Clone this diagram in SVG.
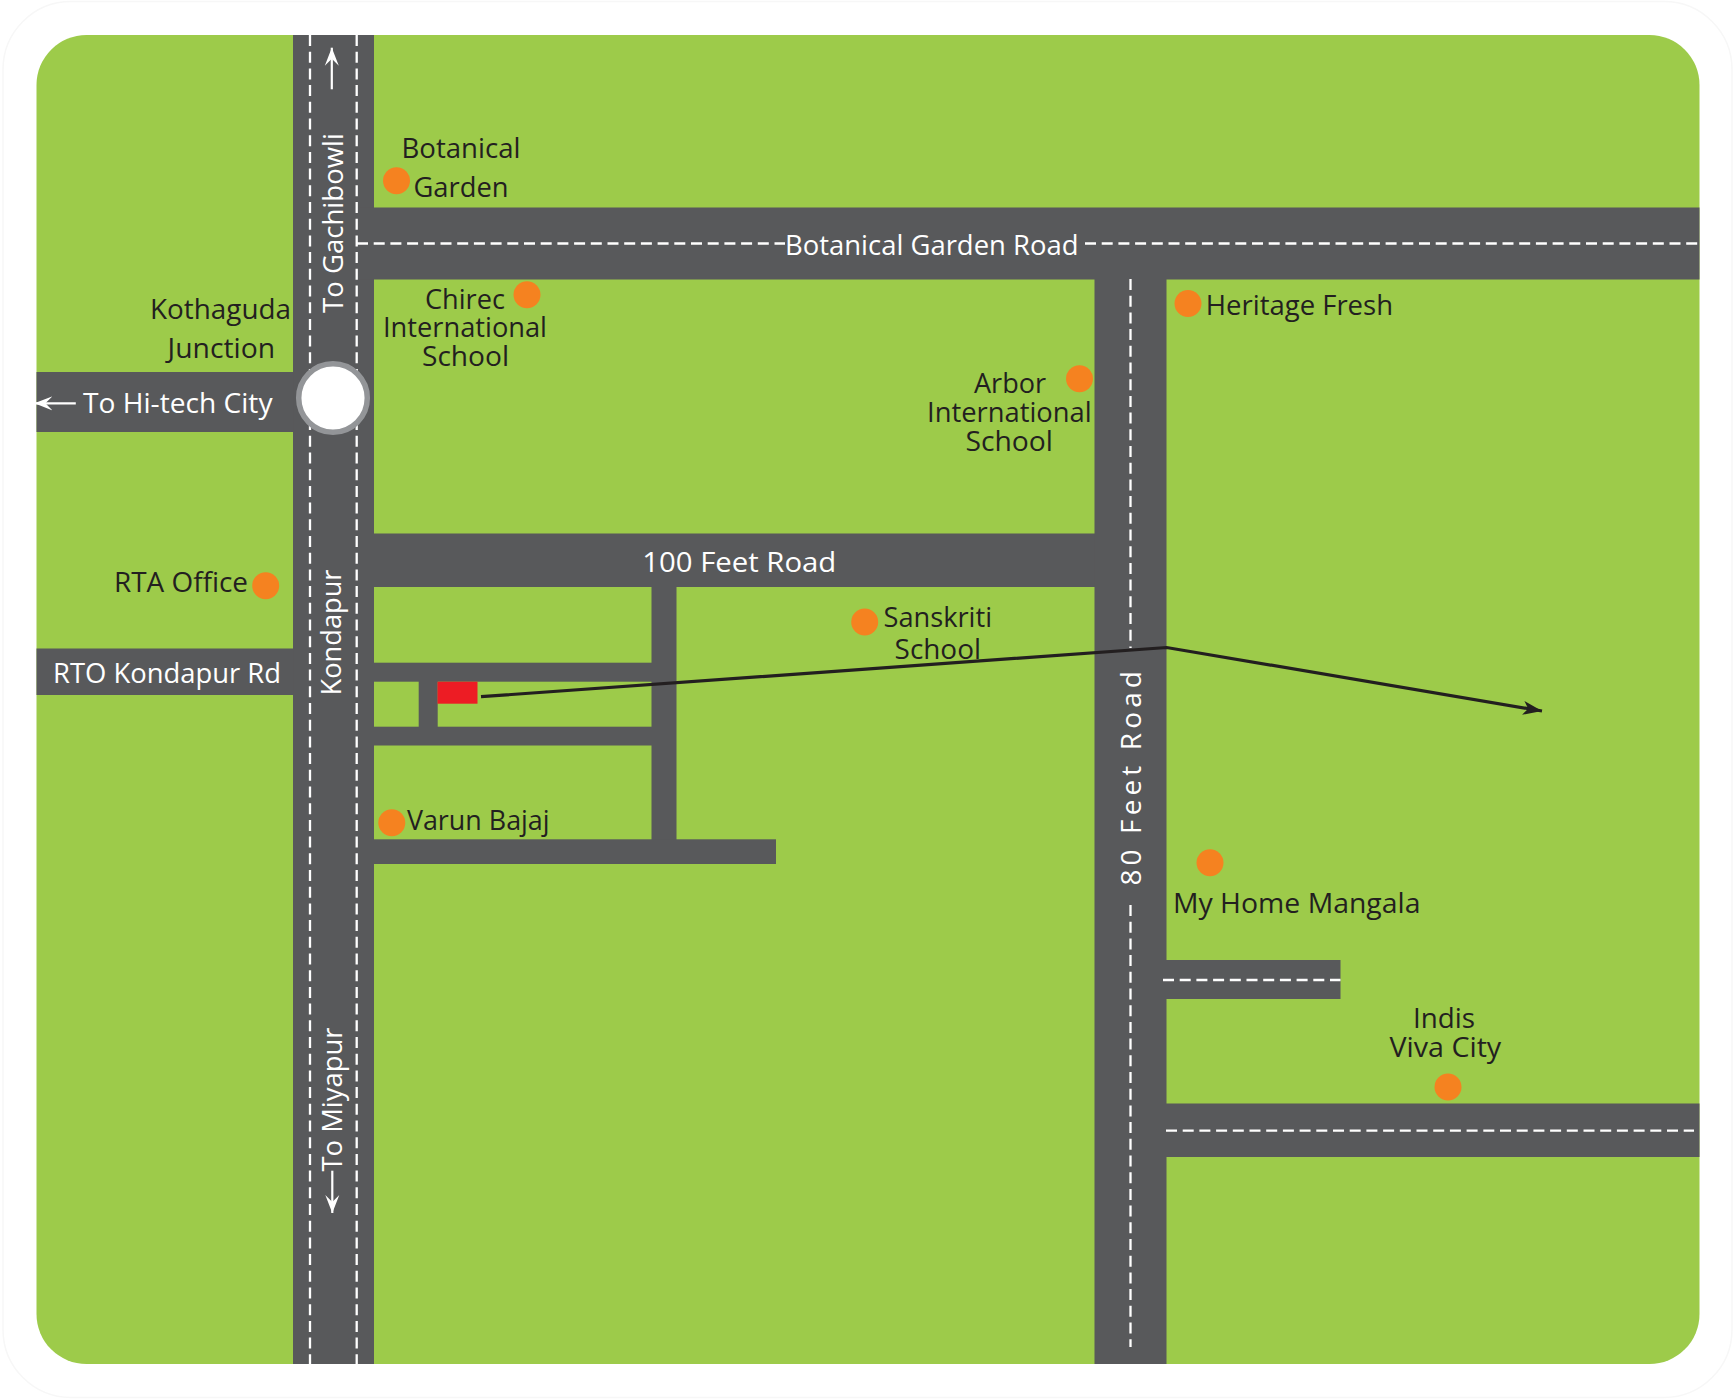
<svg xmlns="http://www.w3.org/2000/svg" width="1735" height="1399" viewBox="0 0 1735 1399">
<style>
.road{fill:#58595b}
.dash{stroke:#fff;stroke-width:2.3;stroke-dasharray:11 5.7;fill:none}
.dot{fill:#f58220}
text{font-family:"Open Sans","Noto Sans","Liberation Sans",sans-serif;font-size:28px;fill:#231f20}
.w{fill:#fff}
.thin{stroke:#fff;stroke-width:2.2;fill:none}
</style>
<defs>
<marker id="wh" markerUnits="userSpaceOnUse" markerWidth="24" markerHeight="24" refX="18" refY="12" orient="auto"><path d="M18 12L0 5L7 12L0 19Z" fill="#fff"/></marker>
<marker id="bk" markerUnits="userSpaceOnUse" markerWidth="24" markerHeight="24" refX="20" refY="12" orient="auto"><path d="M20 12L1 5L6 12L1 19Z" fill="#231f20"/></marker>
</defs>
<rect width="1735" height="1399" fill="#fff"/>
<rect x="3" y="1.500" width="1729" height="1396" rx="68" fill="#fff" stroke="#f7f7f7" stroke-width="1.500"/>
<path id="panel" d="M86.500 35H1649.500A50 50 0 0 1 1699.500 85V1314A50 50 0 0 1 1649.500 1364H86.500A50 50 0 0 1 36.500 1314V85A50 50 0 0 1 86.500 35Z" fill="#9dcb4a"/>
<g id="roads">
<rect class="road" x="293" y="35" width="81" height="1329"/>
<rect class="road" x="36.500" y="372" width="257" height="60"/>
<rect class="road" x="36.500" y="648.500" width="257" height="46.500"/>
<rect class="road" x="357" y="207.500" width="1342.500" height="72"/>
<rect class="road" x="373" y="533.500" width="722" height="53.500"/>
<rect class="road" x="1094.500" y="279" width="72" height="1085"/>
<rect class="road" x="651.500" y="586" width="25" height="278"/>
<rect class="road" x="373" y="662.700" width="279" height="19"/>
<rect class="road" x="373" y="726.700" width="279" height="18.800"/>
<rect class="road" x="418.700" y="681" width="19" height="46"/>
<rect class="road" x="373" y="839.300" width="403" height="24.700"/>
<rect class="road" x="1164" y="960" width="176.500" height="39"/>
<rect class="road" x="1166" y="1103.500" width="533.500" height="53.500"/>
<path class="dash" d="M310 35V1364M356.700 35V1364"/>
<path class="dash" d="M357 243.500H785M1085 243.500H1699.500"/>
<path class="dash" d="M1130.500 279V648M1130.500 905V1347"/>
<path class="dash" d="M1163 980H1340.500M1166 1130.600H1694"/>
</g>
<g id="junction"><circle cx="333" cy="398" r="34.300" fill="#fff" stroke="#939598" stroke-width="5.500"/></g>
<g id="labels-roads">
<text class="w" x="785" y="254.500" textLength="293.500" lengthAdjust="spacingAndGlyphs">Botanical Garden Road</text>
<text class="w" x="83" y="412.700" textLength="189.500" lengthAdjust="spacingAndGlyphs">To Hi-tech City</text>
<text class="w" x="53" y="683" textLength="228" lengthAdjust="spacingAndGlyphs">RTO Kondapur Rd</text>
<text class="w" x="642.300" y="571.700" textLength="194" lengthAdjust="spacingAndGlyphs">100 Feet Road</text>
<text class="w" transform="translate(343 313) rotate(-90)" textLength="180" lengthAdjust="spacingAndGlyphs">To Gachibowli</text>
<text class="w" transform="translate(341 695.500) rotate(-90)" textLength="126" lengthAdjust="spacingAndGlyphs">Kondapur</text>
<text class="w" transform="translate(341.700 1171.500) rotate(-90)" textLength="144" lengthAdjust="spacingAndGlyphs">To Miyapur</text>
<text class="w" transform="translate(1140.800 885.500) rotate(-90)" textLength="214.500" lengthAdjust="spacing">80 Feet Road</text>
</g>
<g id="place-botanical"><circle class="dot" cx="396.500" cy="180.700" r="13.500"/><text x="401.500" y="157.500" textLength="119" lengthAdjust="spacingAndGlyphs">Botanical</text><text x="413.500" y="196.700" textLength="95" lengthAdjust="spacingAndGlyphs">Garden</text></g>
<g id="place-chirec"><circle class="dot" cx="527" cy="294.700" r="13.500"/><text x="425" y="308.500" textLength="80" lengthAdjust="spacingAndGlyphs">Chirec</text><text x="383" y="337" textLength="164" lengthAdjust="spacingAndGlyphs">International</text><text x="422" y="365.700" textLength="87" lengthAdjust="spacingAndGlyphs">School</text></g>
<g id="place-kothaguda"><text x="150" y="319" textLength="141" lengthAdjust="spacingAndGlyphs">Kothaguda</text><text x="167.600" y="357.700" textLength="107.500" lengthAdjust="spacingAndGlyphs">Junction</text></g>
<g id="place-heritage"><circle class="dot" cx="1188" cy="303.500" r="13.500"/><text x="1205.800" y="314.500" textLength="187.200" lengthAdjust="spacingAndGlyphs">Heritage Fresh</text></g>
<g id="place-arbor"><circle class="dot" cx="1079.500" cy="378.700" r="13.500"/><text x="974" y="393" textLength="72" lengthAdjust="spacingAndGlyphs">Arbor</text><text x="927" y="422" textLength="164.600" lengthAdjust="spacingAndGlyphs">International</text><text x="965.500" y="450.700" textLength="87.500" lengthAdjust="spacingAndGlyphs">School</text></g>
<g id="place-rta"><circle class="dot" cx="265.700" cy="585.700" r="13.500"/><text x="114" y="592" textLength="134" lengthAdjust="spacingAndGlyphs">RTA Office</text></g>
<g id="place-sanskriti"><circle class="dot" cx="864.700" cy="622" r="13.500"/><text x="883.500" y="626.700" textLength="108.500" lengthAdjust="spacingAndGlyphs">Sanskriti</text><text x="894.600" y="659" textLength="86.400" lengthAdjust="spacingAndGlyphs">School</text></g>
<g id="place-varun"><circle class="dot" cx="391.800" cy="822.700" r="13.500"/><text x="406.900" y="830.200" textLength="142.700" lengthAdjust="spacingAndGlyphs">Varun Bajaj</text></g>
<g id="place-myhome"><circle class="dot" cx="1210" cy="862.800" r="13.500"/><text x="1173" y="913" textLength="247.400" lengthAdjust="spacingAndGlyphs">My Home Mangala</text></g>
<g id="place-indis"><circle class="dot" cx="1448" cy="1087" r="13.500"/><text x="1413" y="1027.600" textLength="62" lengthAdjust="spacingAndGlyphs">Indis</text><text x="1389.500" y="1056.700" textLength="111.700" lengthAdjust="spacingAndGlyphs">Viva City</text></g>
<g id="site"><rect x="437.500" y="681.700" width="40" height="22" fill="#ed1c24"/></g>
<g id="connectors">
<path d="M481 696.700L1166.600 647.500L1542 711" fill="none" stroke="#231f20" stroke-width="3.200" marker-end="url(#bk)"/>
<path class="thin" d="M331.800 89.300V47.700" marker-end="url(#wh)"/>
<path class="thin" d="M75.800 403.300H34.400" marker-end="url(#wh)"/>
<path class="thin" d="M332.300 1170.700V1213" marker-end="url(#wh)"/>
</g>
</svg>
